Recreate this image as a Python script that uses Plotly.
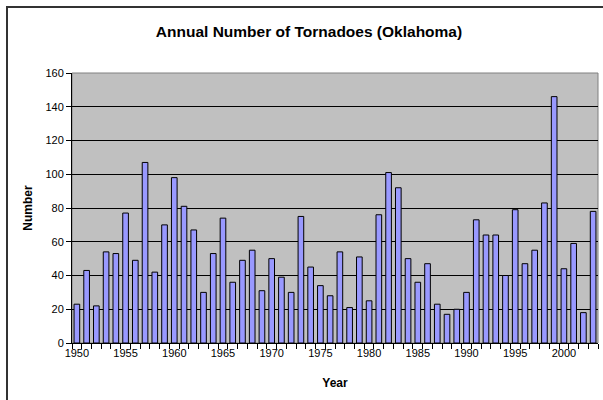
import plotly.graph_objects as go

years = list(range(1950, 2004))
tornadoes = [23, 43, 22, 54, 53, 77, 49, 107, 42, 70,
             98, 81, 67, 30, 53, 74, 36, 49, 55, 31,
             50, 39, 30, 75, 45, 34, 28, 54, 21, 51,
             25, 76, 101, 92, 50, 36, 47, 23, 17, 20,
             30, 73, 64, 64, 40, 79, 47, 55, 83, 146,
             44, 59, 18, 78]
x_tick_labels = [str(y) for y in range(1950, 2004, 5)]
y_ticks = list(range(0, 161, 20))

FONT = "Liberation Sans, Arial, sans-serif"

fig = go.Figure(go.Bar(
    x=years, y=tornadoes,
    marker=dict(color="#9999FF", line=dict(color="black", width=1)),
))

L, R, T, B = 72, 5, 73, 57
W, H = 603, 400
pw, ph = W - L - R, H - T - B

def px_x(p):
    return (p - L) / pw

def px_y(p):
    return (H - B - p) / ph

fig.update_layout(
    width=W, height=H,
    margin=dict(l=L, r=R, t=T, b=B),
    paper_bgcolor="white", plot_bgcolor="#C0C0C0",
    bargap=0.42,
    showlegend=False,
    font=dict(family=FONT, size=11, color="black"),
    title=dict(text="<b>Annual Number of Tornadoes (Oklahoma)</b>",
               x=309 / W, xanchor="center", y=1 - 32 / H, yanchor="middle",
               font=dict(size=15.5, family=FONT)),
    xaxis=dict(
        range=[1949.5, 2003.5],
        tickmode="array", tickvals=[int(t) for t in x_tick_labels], ticktext=x_tick_labels,
        ticks="", showgrid=False, zeroline=False,
        showline=True, linecolor="black", linewidth=1,
        minor=dict(tickmode="linear", tick0=1949.5, dtick=1, ticks="outside",
                   ticklen=5, tickcolor="black", showgrid=False),
        tickfont=dict(size=11, family=FONT),
        title=dict(text="<b>Year</b>", font=dict(size=12, family=FONT), standoff=20),
    ),
    yaxis=dict(
        range=[0, 160], tickmode="array", tickvals=y_ticks,
        ticks="outside", ticklen=5, tickcolor="black",
        showgrid=True, gridcolor="black", gridwidth=1, zeroline=False,
        showline=True, linecolor="black", linewidth=1,
        tickfont=dict(size=11, family=FONT),
        title=dict(text="<b>Number</b>", font=dict(size=12, family=FONT), standoff=10),
    ),
    shapes=[
        dict(type="rect", xref="paper", yref="paper",
             x0=px_x(7), x1=px_x(610), y0=px_y(410), y1=px_y(7),
             line=dict(color="#333333", width=2), layer="above"),
        dict(type="rect", xref="paper", yref="paper",
             x0=0, x1=1, y0=0, y1=1,
             line=dict(color="#808080", width=1), layer="below"),
    ],
)

fig.write_html("out.html", config={"displayModeBar": False},
               post_script="document.body.style.margin='0px';document.body.style.overflow='hidden';")
